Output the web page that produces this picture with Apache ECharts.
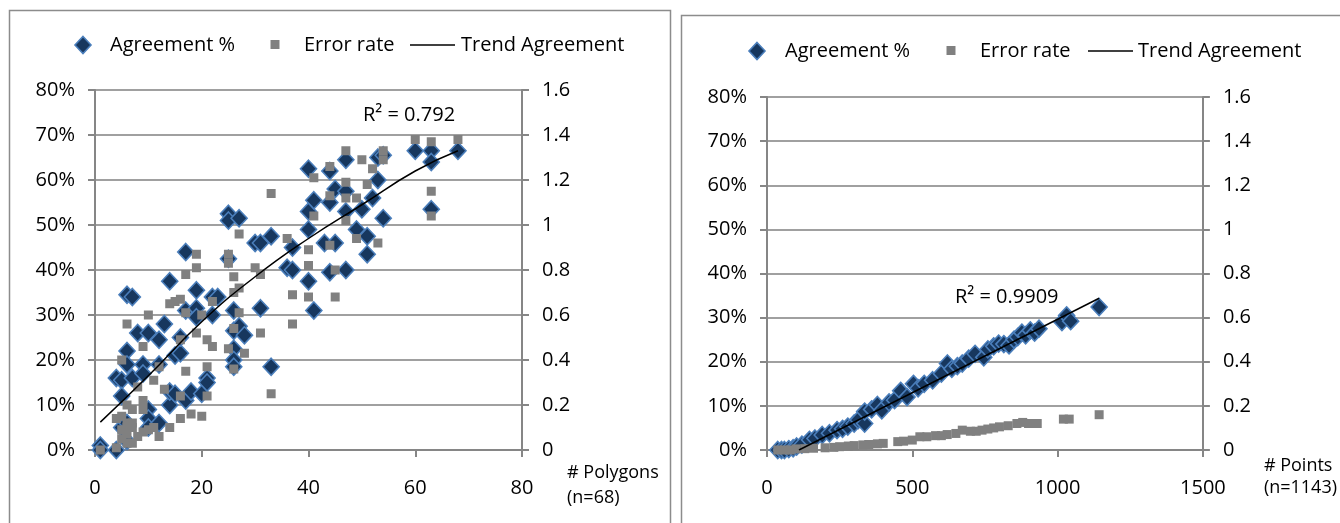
<!DOCTYPE html>
<html><head><meta charset="utf-8">
<script src="https://cdn.jsdelivr.net/npm/echarts@6/dist/echarts.min.js"></script>
<style>html,body{margin:0;padding:0;background:#fff}#c{width:1340px;height:523px}</style>
</head><body><div id="c"></div>
<script>
// ---------- DATA ----------
// Left chart: x = # polygons, agreement in %, error rate on 0..1.6 scale
var polyAgreement = [[1,1],[1,0],[4,0],[4,16],[5,15.5],[5,12],[6,34.5],[7,34],[6,22],[6,19],[5,5],[6,6],[6,2],[7,16],[8,26],[9,19],[9,17],[10,9],[10,26],[10,7],[10,5],[12,6],[12,24.5],[12,19],[13,28],[14,37.5],[14,10],[14,13],[15,12.5],[15,21],[16,21.5],[16,25],[17,44],[17,31],[17,11],[18,13],[19,35.5],[19,31.5],[19,29.5],[20,12.5],[21,16],[21,15],[22,34],[22,30],[23,34],[25,52.5],[25,51],[25,42.5],[26,31],[26,26.5],[26,22.5],[26,20],[26,18.5],[27,51.5],[27,27.5],[28,25.5],[30,46],[31,46],[31,31.5],[33,47.5],[33,18.5],[36,40.5],[37,45],[37,40],[40,62.5],[40,53],[40,49],[40,37.5],[41,31],[41,55.5],[43,46],[44,62],[44,55],[44,39.5],[45,58],[45,46],[47,64.5],[47,57.5],[47,53],[47,40],[49,49],[50,53.5],[51,47.5],[51,43.5],[52,56],[53,60],[53,65],[54,51.5],[54,65.5],[60,66.5],[63,66.5],[63,64],[63,53.5],[68,66.5]];
var polyError = [[1,0],[4,0.01],[4,0.14],[5,0.40],[5,0.15],[5,0.09],[5,0.05],[6,0.56],[6,0.12],[6,0.2],[6,0.1],[6,0.07],[6,0.03],[7,0.18],[7,0.03],[7,0.1],[7,0.12],[8,0.28],[8,0.06],[9,0.46],[9,0.22],[9,0.18],[9,0.08],[10,0.6],[10,0.09],[11,0.31],[11,0.1],[12,0.37],[12,0.06],[13,0.27],[14,0.1],[14,0.65],[15,0.66],[16,0.67],[16,0.14],[16,0.49],[16,0.24],[17,0.78],[17,0.61],[17,0.35],[18,0.16],[19,0.87],[19,0.81],[19,0.52],[20,0.6],[20,0.15],[21,0.49],[21,0.37],[21,0.24],[22,0.46],[22,0.66],[25,0.87],[25,0.83],[25,0.45],[26,0.77],[26,0.70],[26,0.36],[26,0.54],[27,0.96],[27,0.72],[27,0.61],[28,0.43],[30,0.81],[31,0.78],[31,0.52],[33,1.14],[33,0.25],[36,0.94],[37,0.69],[37,0.56],[40,0.89],[40,0.82],[40,0.68],[41,1.21],[41,1.04],[44,1.26],[44,1.13],[44,0.91],[45,0.68],[45,0.80],[47,1.33],[47,1.19],[47,1.12],[47,1.02],[49,1.12],[49,0.94],[50,1.29],[51,1.18],[52,1.25],[53,0.92],[54,1.33],[54,1.29],[60,1.38],[63,1.37],[63,1.15],[63,1.04],[68,1.38]];
var polyTrend = [[1,6.2],[10,16.5],[20,28.5],[30,38.5],[40,47],[50,54.5],[60,62],[68,66.5]];
var polyR2 = 'R² = 0.792';

// Right chart: x = # points
var pointAgreement = [[37,0],[50,0],[60,0],[75,0.2],[90,0.4],[102,0.8],[120,1.2],[146,2.3],[165,2.6],[190,3.4],[215,3.8],[241,4.5],[260,4.8],[278,5.3],[300,6],[314,6.8],[336,6],[336,8.7],[360,9.2],[380,10.2],[395,9],[420,10.8],[439,11.3],[460,13.4],[482,12],[504,15],[520,14],[541,15],[570,15.8],[600,17.3],[621,19.6],[636,18.4],[655,19],[672,19.6],[694,20.7],[716,21.8],[746,21],[760,22.8],[780,23.5],[797,24.1],[815,24],[833,23.7],[850,25],[863,25.6],[877,26.6],[890,26],[906,27.1],[921,26.6],[936,27.5],[1015,29],[1031,30.5],[1045,29.2],[1143,32.4]];
var pointError = [[37,0],[60,0],[80,0],[100,0.005],[130,0.006],[160,0.008],[200,0.01],[230,0.012],[250,0.015],[280,0.018],[300,0.02],[330,0.023],[350,0.025],[380,0.028],[400,0.03],[450,0.038],[470,0.04],[500,0.045],[526,0.06],[550,0.06],[580,0.065],[600,0.065],[620,0.07],[650,0.075],[672,0.09],[700,0.085],[720,0.085],[740,0.09],[760,0.095],[780,0.1],[800,0.105],[830,0.11],[860,0.12],[880,0.125],[900,0.12],[930,0.12],[1020,0.14],[1040,0.14],[1143,0.16]];
var pointTrend = [[110,0],[1143,34.4]];
var pointR2 = 'R² = 0.9909';

var legendNames = ['Agreement %', 'Error rate', 'Trend Agreement'];
var leftXName = '# Polygons\n(n=68)';
var rightXName = '# Points\n(n=1143)';

// ---------- STYLE ----------
var FONT = '"Open Sans", sans-serif';
var FS = 20;
var AX = '#868686';
var GRIDC = '#A0A0A0';
var NAVY = '#17375E';
var BORDERBLUE = '#4A7EBB';
var GRAY = '#808080';

function xAx(idx, max, interval, name, gap, lh, padTop) {
  return {
    type: 'value', gridIndex: idx, min: 0, max: max, interval: interval,
    name: name, nameLocation: 'end', nameGap: gap,
    nameTextStyle: {fontFamily: FONT, fontSize: 18, color: '#000', align: 'left', verticalAlign: 'top', lineHeight: lh, padding: [padTop, 0, 0, 0]},
    axisLine: {show: true, onZero: false, lineStyle: {color: AX, width: 2}},
    axisTick: {show: true, length: 7, lineStyle: {color: AX, width: 2}},
    axisLabel: {fontFamily: FONT, fontSize: FS, color: '#000', margin: 28, formatter: function (v) { return String(v); }},
    splitLine: {show: false}
  };
}
function yAxLeft(idx) {
  return {
    type: 'value', gridIndex: idx, min: 0, max: 80, interval: 10, position: 'left',
    axisLine: {show: true, lineStyle: {color: AX, width: 2}},
    axisTick: {show: true, length: 7, lineStyle: {color: AX, width: 2}},
    axisLabel: {fontFamily: FONT, fontSize: FS, color: '#000', margin: 20, formatter: '{value}%'},
    splitLine: {show: true, lineStyle: {color: GRIDC, width: 2}}
  };
}
function yAxRight(idx) {
  return {
    type: 'value', gridIndex: idx, min: 0, max: 1.6, interval: 0.2, position: 'right',
    axisLine: {show: true, lineStyle: {color: AX, width: 2}},
    axisTick: {show: true, length: 7, lineStyle: {color: AX, width: 2}},
    axisLabel: {fontFamily: FONT, fontSize: FS, color: '#000', margin: 20},
    splitLine: {show: false}
  };
}
function diamonds(xi, yi, data) {
  return {type: 'scatter', name: legendNames[0], xAxisIndex: xi, yAxisIndex: yi, data: data,
    symbol: 'diamond', symbolSize: [16, 17], z: 2,
    itemStyle: {color: NAVY, borderColor: BORDERBLUE, borderWidth: 1.6, opacity: 1}};
}
function squares(xi, yi, data) {
  return {type: 'scatter', name: legendNames[1], xAxisIndex: xi, yAxisIndex: yi, data: data,
    symbol: 'rect', symbolSize: 9, z: 3,
    itemStyle: {color: GRAY, opacity: 1}};
}
function trend(xi, yi, data, smooth) {
  return {type: 'line', name: legendNames[2], xAxisIndex: xi, yAxisIndex: yi, data: data,
    smooth: smooth, showSymbol: false, symbol: 'none', z: 4,
    lineStyle: {color: '#000', width: 1.5}};
}
function legendGraphics(y, xs) {
  // xs: [diamondCx, text1, squareCx, text2, lineX1, lineX2, text3]
  var g = [];
  g.push({type: 'polygon', shape: {points: [[xs[0], y - 8.5], [xs[0] + 8, y], [xs[0], y + 8.5], [xs[0] - 8, y]]},
    style: {fill: NAVY, stroke: BORDERBLUE, lineWidth: 1.6}});
  g.push({type: 'text', x: xs[1], y: y, style: {text: legendNames[0], font: FS + 'px ' + FONT, fill: '#000', verticalAlign: 'middle'}});
  g.push({type: 'rect', shape: {x: xs[2] - 4.5, y: y - 5, width: 9, height: 9}, style: {fill: GRAY}});
  g.push({type: 'text', x: xs[3], y: y, style: {text: legendNames[1], font: FS + 'px ' + FONT, fill: '#000', verticalAlign: 'middle'}});
  g.push({type: 'line', shape: {x1: xs[4], y1: y, x2: xs[5], y2: y}, style: {stroke: '#000', lineWidth: 1.5}});
  g.push({type: 'text', x: xs[6], y: y, style: {text: legendNames[2], font: FS + 'px ' + FONT, fill: '#000', verticalAlign: 'middle'}});
  return g;
}

var graphics = [
  {type: 'rect', shape: {x: 9.5, y: 10.5, width: 661, height: 530}, style: {fill: 'none', stroke: '#8C8C8C', lineWidth: 1.5}, z: -10},
  {type: 'rect', shape: {x: 681.5, y: 15.5, width: 700, height: 530}, style: {fill: 'none', stroke: '#8C8C8C', lineWidth: 1.5}, z: -10},
  {type: 'text', x: 363, y: 115, style: {text: polyR2, font: FS + 'px ' + FONT, fill: '#000', verticalAlign: 'middle'}},
  {type: 'text', x: 955, y: 297, style: {text: pointR2, font: FS + 'px ' + FONT, fill: '#000', verticalAlign: 'middle'}}
].concat(legendGraphics(45, [83, 110, 275, 304, 410, 455, 461]))
 .concat(legendGraphics(51, [757, 785, 951, 980, 1088, 1133, 1138]));

var option = {
  animation: false,
  backgroundColor: '#fff',
  grid: [
    {left: 95, top: 90, width: 427, height: 360},
    {left: 767, top: 97, width: 440, height: 353}
  ],
  xAxis: [xAx(0, 80, 20, leftXName, 45, 25, 10), xAx(1, 1500, 500, rightXName, 61, 22, 5)],
  yAxis: [yAxLeft(0), yAxRight(0), yAxLeft(1), yAxRight(1)],
  series: [
    diamonds(0, 0, polyAgreement), squares(0, 1, polyError), trend(0, 0, polyTrend, true),
    diamonds(1, 2, pointAgreement), squares(1, 3, pointError), trend(1, 2, pointTrend, false)
  ],
  graphic: graphics
};
var chart = echarts.init(document.getElementById('c'), null, {renderer: 'canvas'});
chart.setOption(option);
</script></body></html>
